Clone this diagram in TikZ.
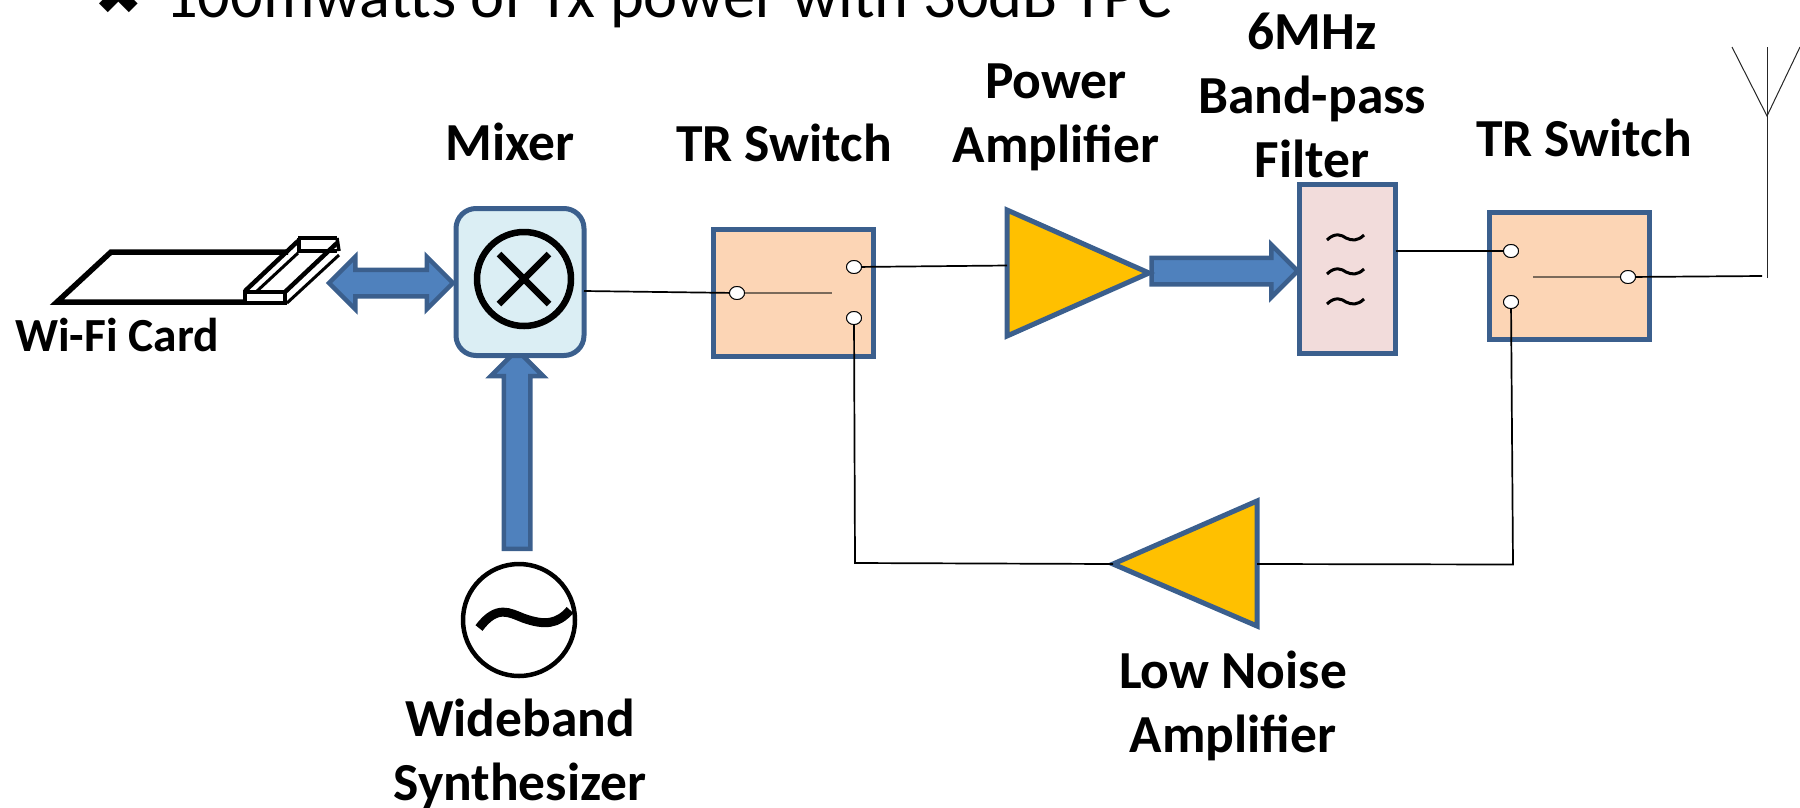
\documentclass[tikz,border=0pt]{standalone}
\usepackage{fontspec}
\setmainfont{Carlito}
\newfontfamily\dingfont{DejaVu Sans}
\usetikzlibrary{shapes.geometric,shapes.arrows,shapes.misc}
\definecolor{edgeblue}{HTML}{3B5F8D}
\definecolor{arrowblue}{HTML}{4F81BD}
\definecolor{swfill}{HTML}{FCD5B5}
\definecolor{mixfill}{HTML}{DBEEF4}
\definecolor{filtfill}{HTML}{F2DCDB}
\definecolor{ampfill}{HTML}{FFC000}
\definecolor{innerline}{HTML}{7A6A5A}
\tikzset{
 x=1pt,y=-1pt,
 lab/.style={font=\fontsize{53.5}{64}\selectfont\bfseries,align=center,inner sep=0pt,text=black},
 boxstyle/.style={draw=edgeblue,line width=5pt,inner sep=0pt,outer sep=0pt},
 swbox/.style={boxstyle,fill=swfill,minimum width=160pt,minimum height=127pt},
 amp/.style={draw=edgeblue,line width=5pt,fill=ampfill,line join=miter},
 term/.style={ellipse,draw=black,line width=0.9pt,fill=white,minimum width=15pt,minimum height=13pt,inner sep=0pt,outer sep=0pt},
 wire/.style={draw=black,line width=1.7pt},
 thinwire/.style={draw=black!85,line width=1pt},
 inner/.style={draw=innerline,line width=1.5pt},
 bigarrow/.style={draw=edgeblue,fill=arrowblue,line width=4.5pt,inner sep=11pt,outer sep=0pt,text height=0pt,text depth=0pt,text width=0pt},
 card/.style={draw=black,line width=5.5pt,line cap=butt},
 cardthin/.style={draw=black,line width=3pt},
}
\begin{document}
\begin{tikzpicture}
\useasboundingbox (0,0) rectangle (1800,807);
% headline, cropped by the page top
\node[anchor=base west,inner sep=0pt,font=\dingfont\fontsize{58}{58}\selectfont] (bullet) at (94,14) {✖};
\node[anchor=base west,inner sep=0pt,font=\fontsize{64.5}{66}\selectfont] (head) at (165,17) {100mwatts of Tx power with 30dB TPC};

% Wi-Fi card
\coordinate (c1) at (57,302);
\coordinate (c2) at (111,252);
\coordinate (c3) at (288,252);
\coordinate (c4) at (245,302);
\draw[card] (c4) -- (c1) -- (c2) -- (c3);
\draw[card,line width=4.5pt] (245,292) rectangle (285,303);
\draw[card,line width=4.5pt] (298,238) -- (337,238);
\draw[card,line width=3.5pt] (299,238) -- (299,251) -- (337,251);
\draw[card,line width=3.5pt] (337,238) -- (339,251);
\draw[card,line width=4.5pt] (245,291) -- (298,241);
\draw[cardthin] (256,292) -- (298,253);
\draw[card,line width=4.5pt] (285,292) -- (337,243);
\draw[cardthin] (287,303) -- (339,255);
\node[lab,font=\fontsize{47.5}{50}\selectfont\bfseries] (wifi) at (117,335) {Wi-Fi Card};

% thick arrows
\node[bigarrow,double arrow,minimum height=124pt,minimum width=48pt,double arrow head extend=13pt,double arrow head indent=0pt] (dbl) at (391,283) {};
\node[bigarrow,single arrow,shape border rotate=90,minimum height=199pt,minimum width=48pt,single arrow head extend=13pt,single arrow head indent=0pt] (up) at (517,456) {};
\node[bigarrow,single arrow,minimum height=146pt,minimum width=48pt,single arrow head extend=13pt,single arrow head indent=0pt] (pwr) at (1218,271) {};

% mixer
\node[boxstyle,rounded corners=20pt,fill=mixfill,minimum width=128pt,minimum height=147pt] (mixer) at (520,282) {};
\node[circle,draw=black,line width=6.5pt,fill=none,minimum size=94pt,inner sep=0pt,outer sep=0pt] (mixc) at (524,279) {};
\draw[black,line width=6.5pt] (mixc.center) ++(-25,-25) -- ++(50,50);
\draw[black,line width=6.5pt] (mixc.center) ++(25,-25) -- ++(-50,50);

% synthesizer
\node[circle,draw=black,line width=4.5pt,minimum size=112pt,inner sep=0pt,outer sep=0pt] (synth) at (519,620) {};
\draw[black,line width=9pt] (479,628) .. controls (497,604) and (510,613) .. (523,618) .. controls (545,626) and (558,624) .. (570,610);

% switches
\node[swbox] (sw1) at (793,292.5) {};
\node[swbox] (sw2) at (1569,276) {};

% filter
\node[boxstyle,fill=filtfill,minimum width=96pt,minimum height=169pt] (filt) at (1347.5,269) {};
\foreach \y/\n in {238/a,272/b,302/c}{
  \draw[black,line width=3pt] (1327,\y+2) .. controls (1335,\y-6) and (1342,\y-3) .. (1346,\y) .. controls (1352,\y+3) and (1358,\y+3) .. (1364,\y-3);
}

% amplifiers
\coordinate (pal) at (1007,265.5);
\coordinate (par) at (1149,273);
\draw[amp] (1007,210) -- (par) -- (1007,336) -- cycle;
\coordinate (lnal) at (1113,564);
\coordinate (lnar) at (1257,564);
\draw[amp] (1257,501) -- (lnal) -- (1257,626) -- cycle;

% terminals
\node[term] (t1a) at (737,293) {};
\node[term] (t1b) at (854,267) {};
\node[term] (t1c) at (854,318) {};
\node[term] (t2a) at (1511,251) {};
\node[term] (t2b) at (1511,302) {};
\node[term] (t2c) at (1628,277) {};
\coordinate (i1) at (832,293);
\coordinate (i2) at (1533,277);

% antenna
\coordinate (antbase) at (1767,278);
\coordinate (antfork) at (1767,116);
\coordinate (anttop) at (1767,47);
\coordinate (antl) at (1732,47);
\coordinate (antr) at (1800,47);
\coordinate (antin) at (1762,276);
\draw[thinwire] (antbase) -- (anttop);
\draw[thinwire] (antl) -- (antfork) -- (antr);

% wires
\coordinate (corn1) at (855,563);
\coordinate (corn2) at (1513,564.5);
\draw[inner] (t1a) -- (i1);
\draw[inner] (t2c) -- (i2);
\draw[wire] (mixer.east |- 0,291) -- (t1a);
\draw[wire] (t1b) -- (pal);
\draw[wire] (filt.east |- t2a) -- (t2a);
\draw[wire] (t2c) -- (antin);
\draw[wire] (t1c) -- (corn1) -- (lnal);
\draw[wire] (lnar) -- (corn2) -- (t2b);
\foreach \t in {t1a,t1b,t1c,t2a,t2b,t2c}{\node[term] at (\t) {};}

% labels
\node[lab] (lmix) at (510,142) {Mixer};
\node[lab] (lsw1) at (784,143) {TR Switch};
\node[lab] (lpa) at (1056,117) {Power\\Amplifier};
\node[lab] (lfilt) at (1312,95) {6MHz\\Band-pass\\Filter};
\node[lab] (lsw2) at (1584,138) {TR Switch};
\node[lab] (llna) at (1233,706) {Low Noise\\Amplifier};
\node[lab] (lsyn) at (520,754) {Wideband\\Synthesizer};
\end{tikzpicture}
\end{document}
